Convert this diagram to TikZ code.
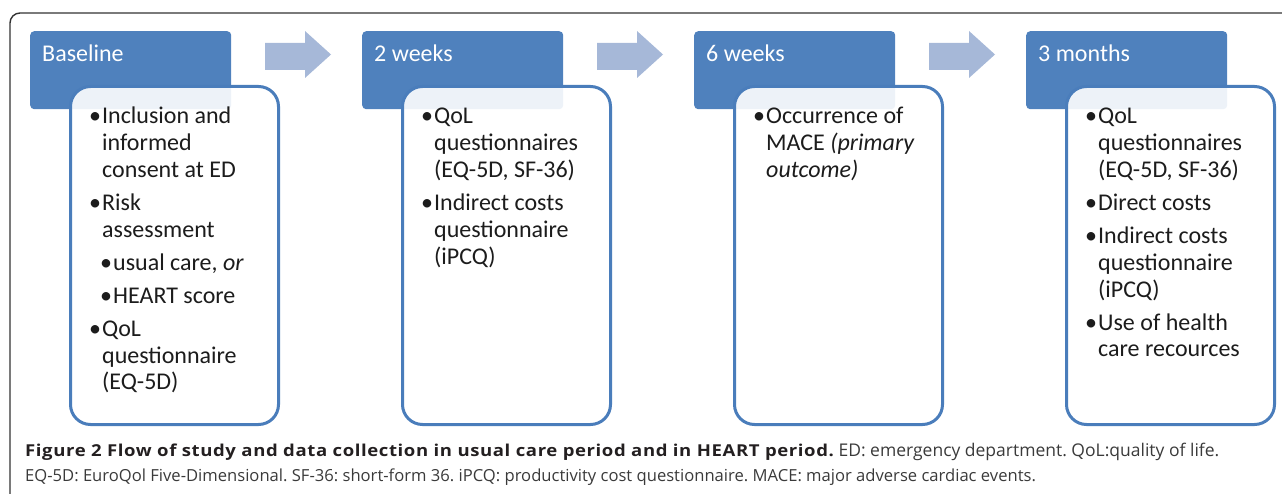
\documentclass[tikz,border=0pt]{standalone}
\usepackage{fontspec}
\setmainfont{Carlito}
\newfontfamily\capfont{Open Sans}
\definecolor{hdrblue}{HTML}{4F81BD}
\definecolor{panelblue}{HTML}{4A7DBB}
\definecolor{steparrow}{HTML}{A6B8D8}
\definecolor{framegray}{HTML}{333333}
\definecolor{bodytext}{HTML}{1C1C1C}
\definecolor{captext}{HTML}{231F20}
\definecolor{capreg}{HTML}{3A3A3A}

% bullet list helpers (lines are broken by hand with \newline)
\newcommand\bitem[1]{\par\noindent\hangindent=13pt\hangafter=1\makebox[13pt][l]{•}#1}
\newcommand\bsubitem[1]{\par\noindent\hangindent=24pt\hangafter=1\hspace*{11pt}\makebox[13pt][l]{•}#1}
\newcommand\paneltext[1]{%
  \begin{minipage}[t]{200pt}\fontsize{24}{26.8}\selectfont
  \raggedright\setlength\parskip{6.2pt}#1\end{minipage}}
% wide bold lead-in of the caption
\newcommand\capbold[1]{\textcolor{captext}{\scalebox{1.13}[1]{%
  \fontsize{16.4}{20}\selectfont\bfseries\addfontfeatures{LetterSpace=3.3}#1}}}

\tikzset{
  hdr/.style={fill=hdrblue, rounded corners=4pt, minimum width=201pt,
              minimum height=78pt, anchor=north west, inner sep=0pt},
  hdrtext/.style={anchor=base west, inner sep=0pt, text=white,
                  font=\fontsize{24}{28}\selectfont},
  panel/.style={draw=panelblue, line width=3pt, fill=white, fill opacity=0.9,
                rounded corners=20pt, minimum width=208pt, minimum height=338pt,
                anchor=north west, inner sep=0pt},
  paneltxt/.style={anchor=base west, inner sep=0pt, text=bodytext},
  stepshape/.style={fill=steparrow},
  captxt/.style={anchor=base west, inner sep=0pt, text=capreg,
                 font=\capfont\frenchspacing}
}

\begin{document}
\begin{tikzpicture}[x=1pt,y=-1pt]
\useasboundingbox (0,0) rectangle (1282,494);

% outer frame (open towards right and bottom)
\draw[framegray, line width=1.4pt, rounded corners=10pt]
  (10,494) -- (10,13) -- (1282,13);

% step headers
\node[hdr] (h1) at (30,31) {};
\node[hdr] (h2) at (362,31) {};
\node[hdr] (h3) at (694,31) {};
\node[hdr] (h4) at (1026,31) {};

% block arrows between the steps
\foreach \ax in {265,597,929}{
  \fill[stepshape] (\ax,43) -- (\ax+40,43) -- (\ax+40,31) -- (\ax+66,54.5)
    -- (\ax+40,78) -- (\ax+40,70) -- (\ax,70) -- cycle;
}

% header labels
\node[hdrtext] (h1t) at (42,62) {Baseline};
\node[hdrtext] (h2t) at (374,62) {2 weeks};
\node[hdrtext] (h3t) at (706,62) {6 weeks};
\node[hdrtext] (h4t) at (1038,62) {3 months};

% content panels
\node[panel] (p1) at (69,85) {};
\node[panel] (p2) at (401,85) {};
\node[panel] (p3) at (733,85) {};
\node[panel] (p4) at (1065,85) {};

\node[paneltxt] (p1t) at (89,124) {\paneltext{%
  \bitem{Inclusion and\newline informed\newline consent at ED}
  \bitem{Risk\newline assessment}
  \bsubitem{usual care, \textit{or}}
  \bsubitem{HEART score}
  \bitem{QoL\newline questionnaire\newline (EQ-5D)}}};

\node[paneltxt] (p2t) at (421,124) {\paneltext{%
  \bitem{QoL\newline questionnaires\newline (EQ-5D, SF-36)}
  \bitem{Indirect costs\newline questionnaire\newline (iPCQ)}}};

\node[paneltxt] (p3t) at (753,124) {\paneltext{%
  \bitem{Occurrence of\newline MACE \textit{(primary}\newline \textit{outcome)}}}};

\node[paneltxt] (p4t) at (1085,124) {\paneltext{%
  \bitem{QoL\newline questionnaires\newline (EQ-5D, SF-36)}
  \bitem{Direct costs}
  \bitem{Indirect costs\newline questionnaire\newline (iPCQ)}
  \bitem{Use of health\newline care recources}}};

% caption
\node[captxt] (cap1) at (25,456)
  {\capbold{Figure 2 Flow of study and data collection in usual care period and in HEART period.}\fontsize{17.5}{20}\selectfont{} ED: emergency department. QoL:quality of life.};
\node[captxt] (cap2) at (25,481)
  {\fontsize{16.6}{20}\selectfont EQ-5D: EuroQol Five-Dimensional. SF-36: short-form 36. iPCQ: productivity cost questionnaire. MACE: major adverse cardiac events.};

\end{tikzpicture}
\end{document}
